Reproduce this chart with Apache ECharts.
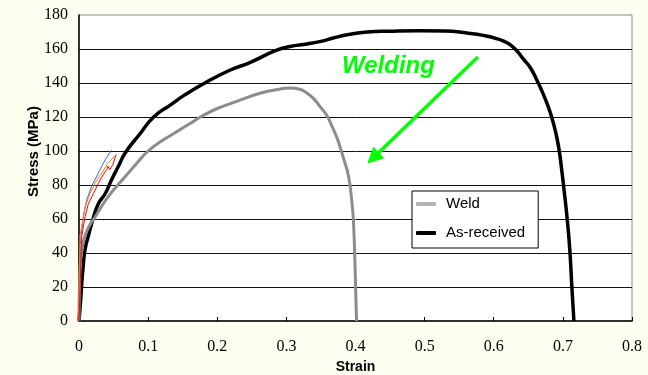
<!DOCTYPE html>
<html>
<head>
<meta charset="utf-8">
<script src="https://cdn.jsdelivr.net/npm/echarts@6/dist/echarts.min.js"></script>
<style>
html,body{margin:0;padding:0;background:#FDFDF1;}
#c{width:648px;height:375px;}
</style>
</head>
<body>
<div id="c"></div>
<script>
// ---- data ----
var xTicks = [0, 0.1, 0.2, 0.3, 0.4, 0.5, 0.6, 0.7, 0.8];
var yTicks = [0, 20, 40, 60, 80, 100, 120, 140, 160, 180];

var asStrain = [0, 0.002, 0.004, 0.006, 0.0087, 0.0135, 0.021, 0.028, 0.038, 0.047, 0.057, 0.067, 0.088, 0.108, 0.132, 0.153, 0.182, 0.218, 0.247, 0.284, 0.305, 0.33, 0.35, 0.368, 0.39, 0.417, 0.45, 0.49, 0.53, 0.561, 0.585, 0.605, 0.62, 0.632, 0.643, 0.653, 0.662, 0.67, 0.677, 0.683, 0.689, 0.694, 0.698, 0.702, 0.706, 0.71, 0.713, 0.716];
var asStress = [0, 10, 22, 32, 42, 50, 61, 69, 75, 83, 91, 99, 110, 120, 127, 133, 140, 147.5, 152, 159, 161.5, 163, 164.5, 166.5, 168.5, 170, 170.5, 170.8, 170.6, 169.4, 168, 166, 163.5, 159.5, 154, 149, 142, 135, 128, 121, 112, 102, 90, 76, 61, 42, 20, 0];

var weldStrain = [0, 0.0014, 0.004, 0.0087, 0.015, 0.023, 0.032, 0.042, 0.054, 0.067, 0.083, 0.1, 0.12, 0.14, 0.16, 0.18, 0.2, 0.22, 0.24, 0.262, 0.285, 0.305, 0.318, 0.33, 0.34, 0.35, 0.359, 0.366, 0.373, 0.378, 0.382, 0.39, 0.395, 0.397, 0.3995, 0.4015];
var weldStress = [0, 30, 42, 50, 56, 61, 67, 73, 79, 85, 92.5, 100, 106, 111, 116, 121, 125, 128, 131, 134, 136, 137, 136.5, 134, 130.5, 125.5, 120.6, 114.5, 108, 102, 96.6, 85, 69, 59, 30, 0];

var blueStrain = [0, 0.0014, 0.0062, 0.011, 0.018, 0.028, 0.038, 0.047];
var blueStress = [0, 44, 61, 71, 79, 87, 95, 100.5];

var orangeStrain = [0, 0.0014, 0.0087, 0.016, 0.023, 0.033, 0.042, 0.052];
var orangeStress = [0, 50, 67, 75, 81, 87, 93, 97];

var redStrain = [0, 0.004, 0.0087, 0.0135, 0.021, 0.028, 0.035, 0.04, 0.042, 0.0445, 0.049, 0.052, 0.054];
var redStress = [0, 50, 61, 69, 75, 81, 86, 89, 91, 89, 92, 96, 98];

var legendNames = ['Weld', 'As-received'];
var arrowFrom = [0.577, 155.3];
var arrowTo = [0.4255, 95.9];

function pairs(xs, ys) { return xs.map(function (x, i) { return [x, ys[i]]; }); }

var serif = "'Liberation Serif', 'Times New Roman', 'DejaVu Serif', serif";
var sans = "Arial, 'Liberation Sans', sans-serif";

var chart = echarts.init(document.getElementById('c'));
chart.setOption({
  backgroundColor: '#FDFDF1',
  animation: false,
  grid: { left: 79, right: 16, top: 15, bottom: 54, show: true, backgroundColor: '#ffffff', borderColor: '#8a8a8a', borderWidth: 1 },
  xAxis: {
    type: 'value', min: xTicks[0], max: xTicks[xTicks.length - 1], interval: 0.1,
    axisLine: { show: true, lineStyle: { color: '#000', width: 1.5 } },
    axisTick: { show: true, inside: true, length: 4, lineStyle: { color: '#000' } },
    splitLine: { show: false },
    axisLabel: { margin: 18, color: '#000', fontFamily: serif, fontSize: 16 }
  },
  yAxis: {
    type: 'value', min: yTicks[0], max: yTicks[yTicks.length - 1], interval: 20,
    axisLine: { show: true, lineStyle: { color: '#000', width: 1.5 } },
    axisTick: { show: false },
    splitLine: { show: true, showMaxLine: false, showMinLine: false, lineStyle: { color: '#111', width: 1 } },
    axisLabel: { margin: 11, color: '#000', fontFamily: serif, fontSize: 16 }
  },
  legend: {
    orient: 'vertical', left: 412, top: 191,
    backgroundColor: '#fff', borderColor: '#000', borderWidth: 1,
    padding: [5, 13, 7, 4], itemGap: 13,
    icon: 'roundRect', itemWidth: 20, itemHeight: 4,
    textStyle: { fontFamily: sans, fontSize: 15, color: '#000', lineHeight: 16, padding: [0, 0, 0, 5] },
    data: [
      { name: legendNames[0], itemStyle: { color: '#b3b3b3' } },
      { name: legendNames[1], itemStyle: { color: '#000' } }
    ]
  },
  series: [
    {
      name: legendNames[1], type: 'line', symbol: 'none', smooth: 0.5,
      lineStyle: { color: '#000', width: 3.5 }, itemStyle: { color: '#000' },
      data: pairs(asStrain, asStress),
      markLine: {
        silent: true, symbol: ['none', 'triangle'], symbolSize: [16, 16],
        label: { show: false },
        lineStyle: { color: '#00FF00', width: 3.5, type: 'solid' },
        itemStyle: { color: '#00FF00' },
        data: [[{ coord: arrowFrom }, { coord: arrowTo }]]
      }
    },
    {
      name: legendNames[0], type: 'line', symbol: 'none', smooth: 0.5,
      lineStyle: { color: '#8c8c8c', width: 3 }, itemStyle: { color: '#b3b3b3' },
      data: pairs(weldStrain, weldStress)
    },
    { name: 'b', type: 'line', symbol: 'none', lineStyle: { color: '#3366FF', width: 1 }, data: pairs(blueStrain, blueStress) },
    { name: 'o', type: 'line', symbol: 'none', lineStyle: { color: '#FF8000', width: 1 }, data: pairs(orangeStrain, orangeStress) },
    { name: 'r', type: 'line', symbol: 'none', lineStyle: { color: '#FF0000', width: 1 }, data: pairs(redStrain, redStress) }
  ],
  graphic: [
    { type: 'text', x: 342, y: 54, style: { text: 'Welding', fill: '#00FF00', font: 'italic bold 24px ' + sans } },
    { type: 'text', x: 33.5, y: 151.5, rotation: Math.PI / 2, style: { text: 'Stress (MPa)', fill: '#000', font: 'bold 15px ' + sans, align: 'center', verticalAlign: 'middle' } },
    { type: 'text', x: 355.5, y: 367, style: { text: 'Strain', fill: '#000', font: 'bold 14px ' + sans, align: 'center', verticalAlign: 'middle' } }
  ]
});
</script>
</body>
</html>
